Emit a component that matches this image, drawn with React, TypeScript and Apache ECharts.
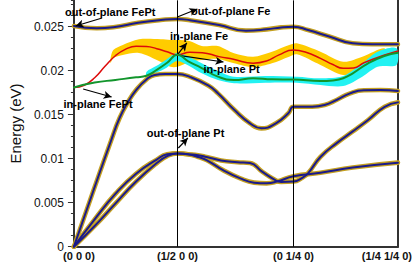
import React, { useEffect, useRef } from 'react';
import * as echarts from 'echarts';

// High-symmetry points along the path (path-distance units) and their labels
const kTicks = [0, 0.5, 1.06, 1.564];
const kLabels = ['(0 0 0)', '(1/2 0 0)', '(0 1/4 0)', '(1/4 1/4 0)'];
const yMax = 0.028;
const yMajor = 0.005;
const yMinor = 0.00125;

// Dispersion branches [k, energy (eV)]
const outOfPlaneTop: [number, number][] = [
  [0, 0.02508], [0.11, 0.02482], [0.19, 0.02493], [0.31, 0.02545], [0.42, 0.02576], [0.5, 0.02588],
  [0.56, 0.02574], [0.7, 0.0252], [0.83, 0.02455], [0.93, 0.0247], [1.0, 0.02492], [1.06, 0.025],
  [1.13, 0.02462], [1.236, 0.02386], [1.346, 0.02311], [1.44, 0.023], [1.564, 0.023],
];
const inPlaneFe: [number, number][] = [
  [0, 0.0181], [0.05, 0.01835], [0.1, 0.0192], [0.15, 0.0205], [0.2, 0.0217], [0.25, 0.02245],
  [0.3, 0.02278], [0.35, 0.02275], [0.4, 0.0225], [0.45, 0.02215], [0.5, 0.0218], [0.56, 0.0221],
  [0.62, 0.02205], [0.7, 0.0216], [0.77, 0.0213], [0.865, 0.02085], [0.93, 0.0211], [0.99, 0.0218],
  [1.06, 0.02235], [1.12, 0.0221], [1.19, 0.0214], [1.25, 0.0207], [1.3, 0.02027], [1.35, 0.0203],
  [1.4, 0.0209], [1.5, 0.02178], [1.564, 0.02224],
];
const inPlanePt: [number, number][] = [
  [0, 0.0181], [0.1, 0.01865], [0.2, 0.01895], [0.3, 0.01925], [0.35, 0.01943], [0.4, 0.0201],
  [0.45, 0.0209], [0.5, 0.0218], [0.55, 0.0211], [0.617, 0.0203], [0.695, 0.01932], [0.773, 0.01894],
  [0.865, 0.01914], [0.956, 0.01902], [1.06, 0.019], [1.19, 0.01883], [1.25, 0.0189], [1.3, 0.01914],
  [1.346, 0.0197], [1.42, 0.02084], [1.498, 0.02167], [1.564, 0.02205],
];
const opticalBranch: [number, number][] = [
  [0, 0], [0.09, 0.0061], [0.18, 0.0121], [0.22, 0.0146], [0.26, 0.0164], [0.3, 0.0178], [0.35, 0.019],
  [0.39, 0.01952], [0.44, 0.01962], [0.5, 0.01962], [0.56, 0.0193], [0.65, 0.0183], [0.695, 0.01743],
  [0.775, 0.01553], [0.85, 0.01402], [0.905, 0.01345], [0.975, 0.01402], [1.035, 0.01516], [1.06, 0.0159],
  [1.15, 0.0159], [1.21, 0.0161], [1.27, 0.0167], [1.33, 0.0174], [1.4, 0.01778], [1.48, 0.0178], [1.564, 0.0177],
];
const acousticUpper: [number, number][] = [
  [0, 0], [0.1, 0.0031], [0.2, 0.006], [0.3, 0.0083], [0.4, 0.0099], [0.45, 0.0105], [0.5, 0.0106],
  [0.55, 0.0105], [0.6, 0.0104], [0.64, 0.0102], [0.71, 0.0098], [0.79, 0.0096], [0.85, 0.0095],
  [0.91, 0.0085], [0.97, 0.0076], [1.0, 0.00735], [1.06, 0.0074], [1.1, 0.0078], [1.13, 0.00834],
  [1.19, 0.0102], [1.27, 0.0118], [1.346, 0.0131], [1.42, 0.0144], [1.5, 0.0159], [1.564, 0.0164],
];
const acousticLower: [number, number][] = [
  [0, 0], [0.1, 0.00235], [0.2, 0.0049], [0.3, 0.0074], [0.4, 0.0095], [0.45, 0.0103], [0.5, 0.0106],
  [0.55, 0.0105], [0.6, 0.0102], [0.64, 0.00985], [0.72, 0.0087], [0.8, 0.0078], [0.87, 0.00728],
  [0.93, 0.0072], [0.98, 0.0074], [1.06, 0.008], [1.19, 0.0084], [1.346, 0.009], [1.564, 0.00955],
];

// Weight bands (gold: in-plane Fe, cyan: in-plane Pt)
const feBandK = [0.177, 0.19, 0.236, 0.314, 0.42, 0.466, 0.5, 0.557, 0.617, 0.695, 0.773, 0.865, 0.956, 1.039, 1.076, 1.19, 1.3, 1.392, 1.498];
const feBandHigh = [0.02144, 0.02235, 0.02292, 0.02357, 0.02357, 0.02349, 0.02349, 0.02338, 0.02281, 0.02281, 0.02198, 0.02159, 0.02216, 0.02292, 0.02311, 0.02216, 0.02102, 0.02159, 0.02255];
const feBandLow = [0.02088, 0.02144, 0.02178, 0.02201, 0.0210, 0.02045, 0.02045, 0.02099, 0.02122, 0.02133, 0.02084, 0.02039, 0.02084, 0.02159, 0.02186, 0.02065, 0.01951, 0.02008, 0.02141];
const ptBandK = [0.351, 0.397, 0.443, 0.498, 0.557, 0.617, 0.695, 0.773, 0.924, 1.076, 1.19, 1.3, 1.392, 1.466, 1.557];
const ptBandHigh = [0.01989, 0.02053, 0.02122, 0.02201, 0.02156, 0.02084, 0.01997, 0.01932, 0.0194, 0.01932, 0.01914, 0.0194, 0.02084, 0.02216, 0.02255];
const ptBandLow = [0.01928, 0.01974, 0.02027, 0.0211, 0.02053, 0.0197, 0.01894, 0.01857, 0.01864, 0.01864, 0.01838, 0.01826, 0.01932, 0.02045, 0.02065];

// Annotation arrows (data coords) and labels (pixel positions)
const arrows: { from: [number, number]; to: [number, number] }[] = [
  { from: [0.136, 0.02599], to: [0.008, 0.02508] },
  { from: [0.499, 0.0261], to: [0.596, 0.02701] },
  { from: [0.498, 0.02178], to: [0.545, 0.02315] },
  { from: [0.498, 0.02178], to: [0.722, 0.02099] },
  { from: [0.0445, 0.01792], to: [0.182, 0.01701] },
  { from: [0.504, 0.01122], to: [0.55, 0.01235] },
];
const labels: { text: string; x: number; y: number }[] = [
  { text: 'out-of-plane FePt', x: 65, y: 11.5 },
  { text: 'out-of-plane Fe', x: 191, y: 10.7 },
  { text: 'in-plane Fe', x: 170, y: 35.5 },
  { text: 'in-plane Pt', x: 203.5, y: 69.3 },
  { text: 'in-plane FePt', x: 63.5, y: 104.3 },
  { text: 'out-of-plane Pt', x: 146.7, y: 132.7 },
];

const FONT = '"Liberation Sans", Arial, Helvetica, sans-serif';
const NAVY = '#1b1b8c';
const OUTLINE = '#c4a020';

function bandSeries(ks: number[], lo: number[], hi: number[], color: string, z: number) {
  return {
    type: 'custom',
    coordinateSystem: 'cartesian2d',
    data: [[0, 0]],
    silent: true,
    z,
    renderItem: (_p: any, api: any) => {
      const up = ks.map((k, i) => api.coord([k, hi[i]]));
      const dn = ks.map((k, i) => api.coord([k, lo[i]])).reverse();
      return {
        type: 'polygon',
        shape: { points: up.concat(dn), smooth: 0.3 },
        style: { fill: color },
      };
    },
  };
}

function lineSeries(data: [number, number][], color: string, width: number, z: number, extra: any = {}) {
  return {
    type: 'line',
    data,
    smooth: 0.5,
    symbol: 'none',
    showSymbol: false,
    silent: true,
    z,
    lineStyle: { color, width, cap: 'round', join: 'round' },
    ...extra,
  };
}

export default function App() {
  const ref = useRef<HTMLDivElement>(null);
  useEffect(() => {
    if (!ref.current) return;
    const chart = echarts.init(ref.current, undefined, { renderer: 'svg' });
    const navyCurves = [outOfPlaneTop, opticalBranch, acousticUpper, acousticLower];
    const series: any[] = [
      bandSeries(feBandK, feBandLow, feBandHigh, '#ffcc00', 1),
      bandSeries(ptBandK, ptBandLow, ptBandHigh, '#22f2f2', 2),
      ...navyCurves.map((c) => lineSeries(c, OUTLINE, 4.6, 3)),
      ...navyCurves.map((c, i) =>
        lineSeries(c, NAVY, 2, 4, i === 0 ? {
          markLine: {
            silent: true,
            symbol: ['none', 'none'],
            label: { show: false },
            lineStyle: { color: '#000', width: 1, type: 'solid' },
            data: [{ xAxis: kTicks[1] }, { xAxis: kTicks[2] }],
          },
        } : {})
      ),
      lineSeries(inPlaneFe, '#dd0a0a', 1.5, 5),
      lineSeries(inPlanePt, '#12952c', 2, 5, {
        markLine: {
          silent: true,
          symbol: ['none', 'arrow'],
          symbolSize: [6, 8],
          label: { show: false },
          lineStyle: { color: '#000', width: 1.2, type: 'solid' },
          data: arrows.map((a) => [{ coord: a.from }, { coord: a.to }]),
        },
      }),
    ];

    chart.setOption({
      animation: false,
      grid: { left: 58.3, right: 16, top: 0.3, bottom: 16.3, containLabel: false },
      xAxis: {
        type: 'value',
        min: 0,
        max: kTicks[3],
        axisLine: { show: true, lineStyle: { color: '#333', width: 2 } },
        axisTick: { show: false },
        splitLine: { show: false },
        axisLabel: {
          customValues: kTicks,
          margin: 4,
          alignMinLabel: 'center',
          alignMaxLabel: 'center',
          color: '#111',
          fontFamily: FONT,
          fontWeight: 'bold',
          fontSize: 11,
          formatter: (v: number) => {
            const i = kTicks.findIndex((t) => Math.abs(t - v) < 1e-6);
            if (i < 0) return '';
            if (i === 0) return '{first|' + kLabels[i] + '}';
            if (i === kTicks.length - 1) return '{last|' + kLabels[i] + '}';
            return kLabels[i];
          },
          rich: {
            first: { padding: [0, 0, 0, 10], fontWeight: 'bold', fontSize: 11, fontFamily: FONT, color: '#111' },
            last: { padding: [0, 22, 0, 0], fontWeight: 'bold', fontSize: 11, fontFamily: FONT, color: '#111' },
          },
        },
      },
      yAxis: [
        {
          type: 'value',
          position: 'left',
          min: 0,
          max: yMax,
          interval: yMajor,
          name: 'Energy (eV)',
          nameLocation: 'middle',
          nameGap: 47,
          nameTextStyle: { fontSize: 15, fontFamily: FONT, color: '#111' },
          axisLine: { show: true, lineStyle: { color: '#333', width: 2 } },
          axisTick: { show: true, length: 6, lineStyle: { color: '#333', width: 1 } },
          axisLabel: { margin: 10, fontSize: 12, fontFamily: FONT, color: '#111', showMaxLabel: false },
          splitLine: { show: false },
        },
        {
          type: 'value',
          position: 'left',
          min: 0,
          max: yMax,
          interval: yMinor,
          axisLine: { show: false },
          axisTick: { show: true, length: 3, lineStyle: { color: '#333', width: 1 } },
          axisLabel: { show: false },
          splitLine: { show: false },
        },
        {
          type: 'value',
          position: 'right',
          min: 0,
          max: yMax,
          axisLine: { show: true, lineStyle: { color: '#333', width: 2 } },
          axisTick: { show: false },
          axisLabel: { show: false },
          splitLine: { show: false },
        },
      ],
      graphic: labels.map((l) => ({
        type: 'text',
        x: l.x,
        y: l.y,
        z: 100,
        silent: true,
        style: {
          text: l.text,
          fill: '#000',
          font: 'bold 11px ' + FONT,
          verticalAlign: 'middle',
          align: 'left',
        },
      })),
      series,
    });
    return () => chart.dispose();
  }, []);
  return <div ref={ref} style={{ position: 'absolute', left: 0, top: 0, width: 415, height: 263 }} />;
}
